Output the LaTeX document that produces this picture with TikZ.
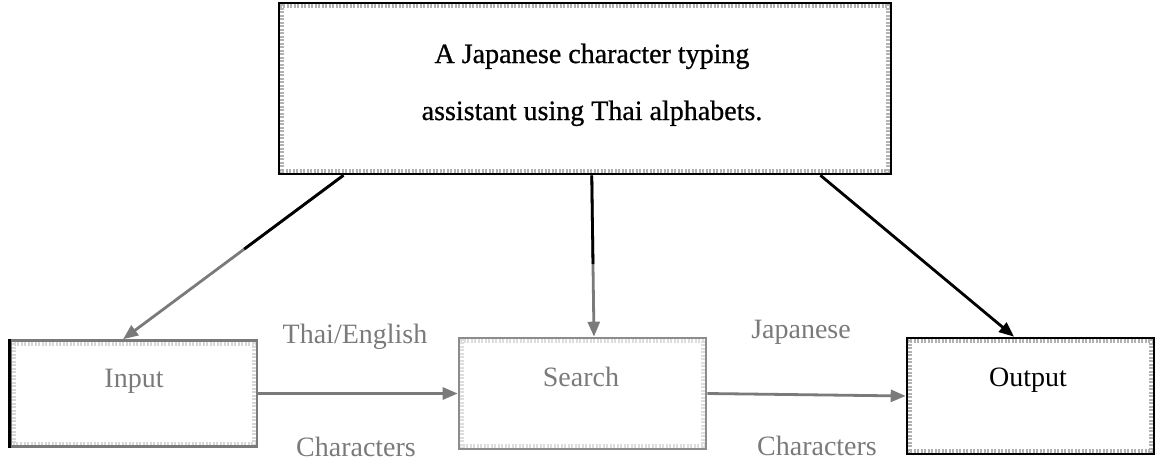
\documentclass[tikz,border=0pt]{standalone}
\usepackage{fontspec}
\setmainfont{Liberation Serif}
\newfontfamily\heavyserif[FakeBold=0.8]{Liberation Serif}
\usetikzlibrary{arrows.meta,calc}
\definecolor{dgray}{HTML}{7A7A7A}
\definecolor{mgray}{HTML}{8C8C8C}
\tikzset{
  box/.style={draw=#1, line width=2.6pt, inner sep=0pt,
    path picture={\draw[#1!30, line width=10pt, dash pattern=on 2pt off 1.5pt]
      (path picture bounding box.south west) rectangle (path picture bounding box.north east);}},
  lbl/.style={font=\fontsize{28}{30}\selectfont, text=#1, anchor=base, inner sep=0pt},
  arr/.style={draw=#1, line width=2.8pt, -{Triangle[length=15pt,width=12pt]}},
}
\begin{document}
\begin{tikzpicture}[x=1pt,y=-1pt]
\useasboundingbox (0,0) rectangle (1157,461);
% boxes
\node[box=black, minimum width=612pt, minimum height=171pt] (top) at (585,88.5) {};
\node[box=dgray, minimum width=246pt, minimum height=106pt] (input) at (134,393.5) {};
\draw[black, line width=3.2pt] (input.north west) -- (input.south west);
\node[box=mgray, minimum width=247pt, minimum height=111pt] (search) at (582.5,393.5) {};
\node[box=black, minimum width=247pt, minimum height=116pt] (output) at (1030.5,396) {};
% texts
\node[lbl=black, font=\heavyserif\fontsize{28}{30}\selectfont] (t1) at (592,63) {A Japanese character typing};
\node[lbl=black, font=\heavyserif\fontsize{28}{30}\selectfont] (t2) at (592,120) {assistant using Thai alphabets.};
\node[lbl=dgray] (tin) at (134,387) {Input};
\node[lbl=dgray] (tse) at (581,386) {Search};
\node[lbl=black] (tou) at (1028,386) {Output};
\node[lbl=dgray] (l1) at (355,343) {Thai/English};
\node[lbl=dgray] (l2) at (356,456) {Characters};
\node[lbl=dgray] (l3) at (801,338) {Japanese};
\node[lbl=dgray] (l4) at (817,455) {Characters};
% connector end points
\coordinate (s1) at ($(top.south west)!0.107!(top.south east)$);
\coordinate (e1) at ($(input.north west)!0.456!(input.north east)$);
\coordinate (s2) at ($(top.south west)!0.511!(top.south east)$);
\coordinate (e2) at ($(search.north west)!0.546!(search.north east)$);
\coordinate (s3) at ($(top.south west)!0.883!(top.south east)$);
\coordinate (e3) at ($(output.north west)!0.434!(output.north east)$);
% connectors
\draw[arr=dgray] (s1) -- (e1);
\draw[black, line width=2.8pt] (s1) -- ($(s1)!0.45!(e1)$);
\draw[arr=dgray] (s2) -- (e2);
\draw[black, line width=2.8pt] (s2) -- ($(s2)!0.55!(e2)$);
\draw[arr=black] (s3) -- (e3);
\draw[arr=dgray] (input.east) -- (search.west);
\draw[arr=dgray] (search.east) -- (output.west);
\end{tikzpicture}
\end{document}
